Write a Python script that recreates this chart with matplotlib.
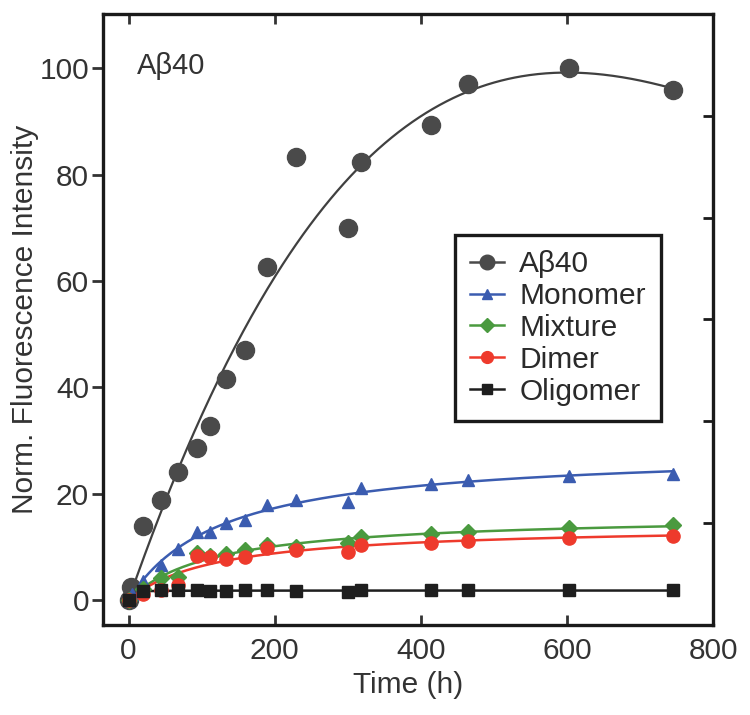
import numpy as np
import matplotlib
matplotlib.use("Agg")
import matplotlib.pyplot as plt

plt.rcParams['font.family'] = ['Liberation Sans', 'DejaVu Sans']

# time points (h) and normalised fluorescence
t_ab = [0, 4, 20, 44, 68, 94, 111, 134, 160, 189, 229, 300, 318, 414, 464, 603, 745]
y_ab = [0, 2.5, 14, 18.8, 24, 28.6, 32.7, 41.5, 47, 62.6, 83.4, 70, 82.3, 89.3, 97, 100, 96]

t_mono = [0, 5, 20, 44, 68, 94, 111, 134, 160, 189, 229, 300, 318, 414, 464, 603, 745]
y_mono = [0, 1.2, 3.6, 6.6, 9.6, 12.8, 12.8, 14.5, 15.0, 17.9, 18.8, 18.5, 21.0, 21.9, 22.6, 23.3, 23.7]

t_rest = [0, 20, 44, 68, 94, 111, 134, 160, 189, 229, 300, 318, 414, 464, 603, 745]
y_mix = [0, 2.0, 4.1, 4.4, 8.8, 8.3, 8.6, 9.4, 10.3, 10.0, 10.7, 11.9, 12.4, 12.8, 13.5, 14.1]
y_dimer = [0, 1.2, 1.9, 2.8, 8.3, 8.1, 7.8, 8.0, 9.7, 9.4, 9.1, 10.3, 10.7, 11.0, 11.6, 12.0]
y_olig = [0, 1.6, 1.8, 1.8, 1.8, 1.7, 1.7, 1.8, 1.8, 1.7, 1.5, 1.8, 1.8, 1.8, 1.8, 1.9]


def hyper_fit(t, y):
    # y = A*t/(K+t), grid over K, least squares for A
    t = np.asarray(t, float)
    y = np.asarray(y, float)
    best = None
    for K in np.linspace(1, 1000, 4000):
        f = t / (K + t)
        A = np.dot(f, y) / np.dot(f, f)
        err = np.sum((A * f - y) ** 2)
        if best is None or err < best[0]:
            best = (err, A, K)
    return best[1], best[2]


def poly0_fit(t, y):
    # cubic through the origin
    t = np.asarray(t, float)
    M = np.column_stack([t, t ** 2, t ** 3])
    c = np.linalg.lstsq(M, np.asarray(y, float), rcond=None)[0]
    return c


tt = np.linspace(0, 745, 400)
fs = 21.5

fig = plt.figure(figsize=(7.5, 7.15), dpi=100)
ax = fig.add_axes([0.1373, 0.1259, 0.8134, 0.8545])

c = poly0_fit(t_ab, y_ab)
ax.plot(tt, c[0] * tt + c[1] * tt ** 2 + c[2] * tt ** 3, color='#404040', lw=1.6, zorder=2)
ax.plot(t_ab, y_ab, 'o', color='#4a4a4a', ms=13, zorder=3)

series = [
    (t_mono, y_mono, '^', '#3b5cb0', 9, 7.5, 'Monomer'),
    (t_rest, y_mix, 'D', '#4a9a3f', 8, 7.5, 'Mixture'),
    (t_rest, y_dimer, 'o', '#ee3a2c', 9.5, 8.5, 'Dimer'),
    (t_rest, y_olig, 's', '#1e1e1e', 8.5, 7.5, 'Oligomer'),
]
for t, y, m, col, ms, lms, name in series:
    A, K = hyper_fit(t, y)
    ax.plot(tt, A * tt / (K + tt), color=col, lw=1.8, zorder=2)
    ax.plot(t, y, m, color=col, ms=ms, zorder=3)

# legend handles
handles = [ax.plot([], [], '-o', color='#4a4a4a', ms=10.5, lw=1.8, label='A\u03b240')[0]]
for t, y, m, col, ms, lms, name in series:
    handles.append(ax.plot([], [], '-' + m, color=col, ms=lms, lw=1.8, label=name)[0])
leg = ax.legend(handles=handles, loc='upper left', bbox_to_anchor=(0.577, 0.638),
                borderaxespad=0, fontsize=fs, handlelength=1.15, handletextpad=0.5,
                labelspacing=0.13, borderpad=0.5, fancybox=False, framealpha=1)
leg.get_frame().set_edgecolor('#1a1a1a')
leg.get_frame().set_linewidth(2.4)
for txt in leg.get_texts():
    txt.set_color('#2a2a2a')

ax.text(0.055, 0.915, 'A\u03b240', transform=ax.transAxes, fontsize=21,
        color='#333333', va='center', ha='left')

ax.set_xlim(-35, 800)
ax.set_ylim(-4.7, 110.2)
ax.set_xticks([0, 200, 400, 600, 800])
ax.set_yticks([0, 20, 40, 60, 80, 100])
ax.tick_params(axis='x', direction='in', top=True, length=7, width=2,
               labelsize=fs, pad=9, colors='#333333')
ax.tick_params(axis='y', direction='out', right=False, length=8, width=2,
               labelsize=fs, pad=2, colors='#333333')
ax.set_xlabel('Time (h)', fontsize=fs, color='#333333', labelpad=4)
ax.set_ylabel('Norm. Fluorescence Intensity', fontsize=fs, color='#333333', labelpad=0)
for s in ax.spines.values():
    s.set_linewidth(2.4)
    s.set_color('#1a1a1a')

ax2 = ax.twinx()
ax2.set_ylim(0, 6)
ax2.set_yticks([1, 2, 3, 4, 5])
ax2.tick_params(direction='in', length=7, width=2, labelright=False, colors='#1a1a1a')
for s in ax2.spines.values():
    s.set_visible(False)

fig.savefig('out.png', dpi=100)
